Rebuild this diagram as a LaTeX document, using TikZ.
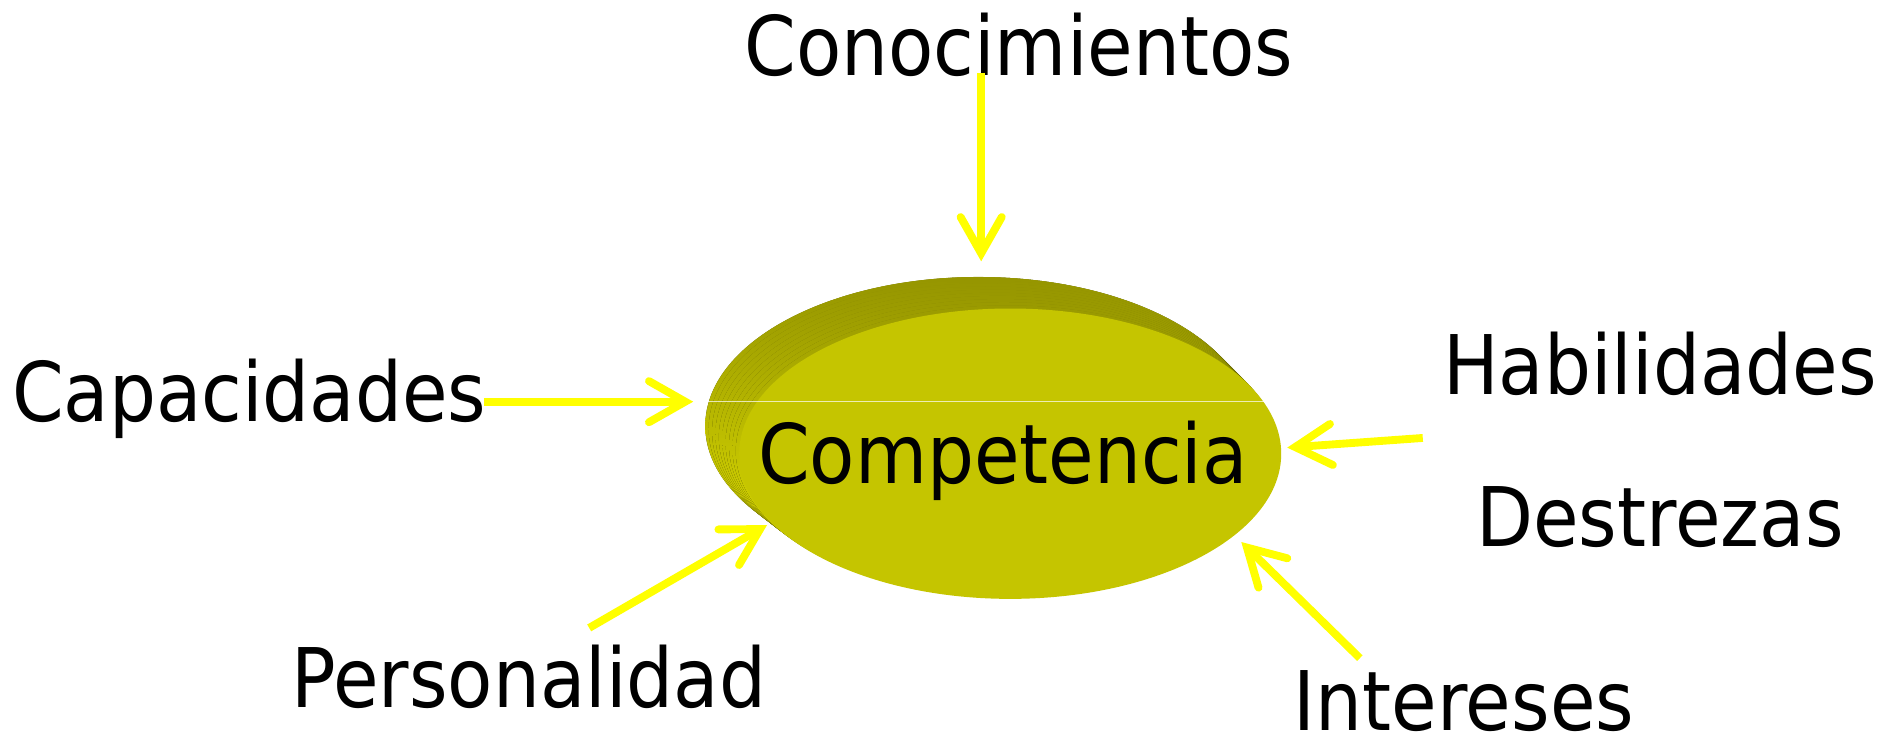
\documentclass[tikz,border=0pt]{standalone}
\usepackage{fontspec}
\setmainfont[FakeStretch=0.9]{DejaVu Sans}
\usetikzlibrary{arrows.meta,fadings,shapes.geometric}
\definecolor{arrowyellow}{RGB}{255,255,0}
\definecolor{faceolive}{RGB}{197,197,0}
\definecolor{rimdark}{RGB}{150,150,0}
\definecolor{rimlight}{RGB}{224,224,0}
\definecolor{rimmid}{RGB}{170,170,0}
\tikzset{
  label/.style={font=\fontsize{68}{80}\selectfont, inner sep=0pt, anchor=base, text=black},
  feed/.style={draw=arrowyellow, line width=6.5pt,
    -{Straight Barb[length=30pt, width=34pt, line width=6.5pt, line cap=round]}},
}
\begin{document}
\begin{tikzpicture}[x=1pt,y=-1pt]
\useasboundingbox[fill=white] (0,0) rectangle (1568,613);
% disk body: swept from back ellipse towards front face
\foreach \t in {0,0.1,...,1.0}{
  \fill[left color=rimlight, right color=rimmid]
    ({809+26*\t},{352+23*\t}) ellipse [x radius={226-2*\t}, y radius={123-3*\t}];
}
\fill[rimdark, path fading=south] (809,352) ellipse [x radius=226, y radius=123];
% front face
\node (comp) [ellipse, fill=faceolive, minimum width=448pt, minimum height=240pt, inner sep=0pt] at (835,375) {};
\node (comptext) [label] at (829,400) {Competencia};
\draw[white, opacity=0.7, line width=0.8pt] (584,332) -- (1046,332);
% labels
\node (conoc) [label] at (842,62) {Conocimientos};
\node (capac) [label] at (206,348) {Capacidades};
\node (habil) [label] at (1372,326) {Habilidades};
\node (destr) [label] at (1372,452) {Destrezas};
\node (person) [label] at (437,585) {Personalidad};
\node (inter) [label] at (1210,604) {Intereses};
% arrow end points
\coordinate (s1) at (811,60);   \coordinate (e1) at (811,216);
\coordinate (s2) at (400,332);  \coordinate (e2) at (573,332);
\coordinate (s3) at (1176,362); \coordinate (e3) at (1064,370);
\coordinate (s4) at (487,519);  \coordinate (e4) at (634,434);
\coordinate (s5) at (1124,544); \coordinate (e5) at (1026,448);
\draw[feed] (s1) -- (e1);
\draw[feed] (s2) -- (e2);
\draw[feed] (s3) -- (e3);
\draw[feed] (s4) -- (e4);
\draw[feed] (s5) -- (e5);
\end{tikzpicture}
\end{document}
